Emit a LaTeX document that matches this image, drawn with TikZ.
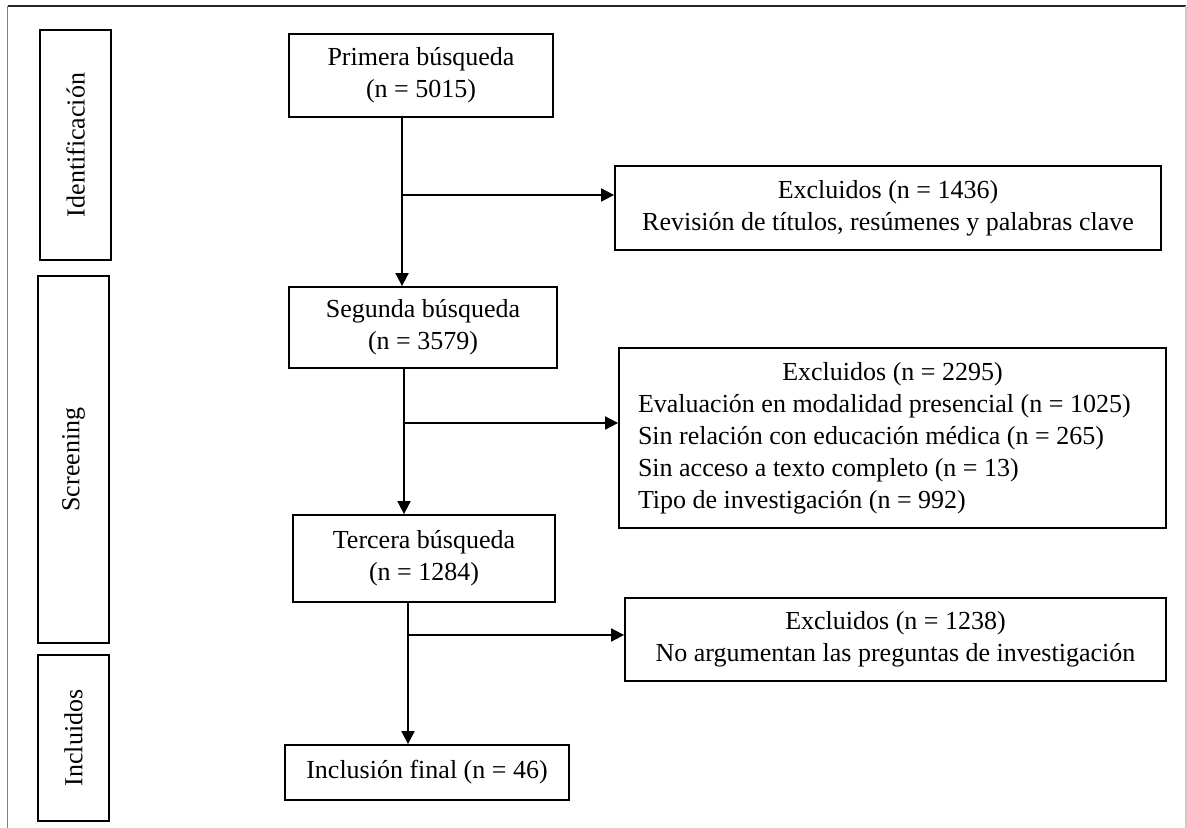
\documentclass[tikz,border=0pt]{standalone}
\usepackage{fontspec}
\setmainfont{Liberation Serif}
\usepackage{tikz}
\usetikzlibrary{arrows.meta}
\newcommand{\prismastage}[5] {\node at (#1) (#2) [stagebox, minimum width=#3, minimum height=#4] {#5};}
\newcommand{\prismabox}[5] {\node at (#1) (#2) [flowbox, minimum width=#3, minimum height=#4] {#5};}
\newcommand{\prismasplit}[2] {\coordinate (#1) at (#2);}
\newcommand{\prismadown}[3] {\draw [flowarrow] (#1.south -| #3) -- (#2.north -| #3);}
\newcommand{\prismaout}[2] {\draw [flowarrow] (#1) -- (#2.west |- #1);}

\begin{document}
\begin{tikzpicture}[x=0.5pt, y=-0.5pt,
  flowbox/.style={rectangle, draw, line width=0.9pt, inner sep=0pt, align=center, font=\fontsize{13}{16}\selectfont},
  stagebox/.style={flowbox, rotate=90},
  flowarrow/.style={-{Triangle[length=6.5pt, width=6.5pt]}, line width=0.9pt}]
\useasboundingbox (0,0) rectangle (1187,828);

% frame
\draw [black!85, line width=0.8pt] (7.5,6) -- (1186,6);
\draw [black!50, line width=0.8pt] (7.5,6) -- (7.5,828);
\draw [black!20, line width=0.8pt] (1186,6) -- (1186,828);

% stages
\prismastage {75.5,145} {ident} {115pt} {35.5pt} {Identificación};
\prismastage {73.5,459.5} {screen} {183.5pt} {35.5pt} {Screening};
\prismastage {73.5,738} {incl} {83pt} {35.5pt} {Incluidos};

% main column
\prismabox {421,75.5} {primera} {132pt} {41.5pt} {Primera búsqueda\\(n = 5015)};
\prismabox {423,327.5} {segunda} {134pt} {40.5pt} {Segunda búsqueda\\(n = 3579)};
\prismabox {424,558.5} {tercera} {131pt} {43.5pt} {Tercera búsqueda\\(n = 1284)};
\prismabox {427,772.5} {final} {142pt} {27.5pt} {Inclusión final (n = 46)};

% exclusions
\prismabox {888,208} {excl1} {273pt} {42pt} {Excluidos (n = 1436)\\Revisión de títulos, resúmenes y palabras clave};
\node at (892.5,438) (excl2) [flowbox, align=flush left, text width=254.5pt, minimum width=273.5pt, minimum height=90pt]
  {\hfill Excluidos (n = 2295)\hfill\null\\
   Evaluación en modalidad presencial (n = 1025)\\
   Sin relación con educación médica (n = 265)\\
   Sin acceso a texto completo (n = 13)\\
   Tipo de investigación (n = 992)};
\prismabox {895.5,639.5} {excl3} {270.5pt} {41.5pt} {Excluidos (n = 1238)\\No argumentan las preguntas de investigación};

\prismasplit {split1} {402,195};
\prismasplit {split2} {404,423};
\prismasplit {split3} {408,635};

\prismadown {primera} {segunda} {split1};
\prismadown {segunda} {tercera} {split2};
\prismadown {tercera} {final} {split3};

\prismaout {split1} {excl1};
\prismaout {split2} {excl2};
\prismaout {split3} {excl3};
\end{tikzpicture}
\end{document}
